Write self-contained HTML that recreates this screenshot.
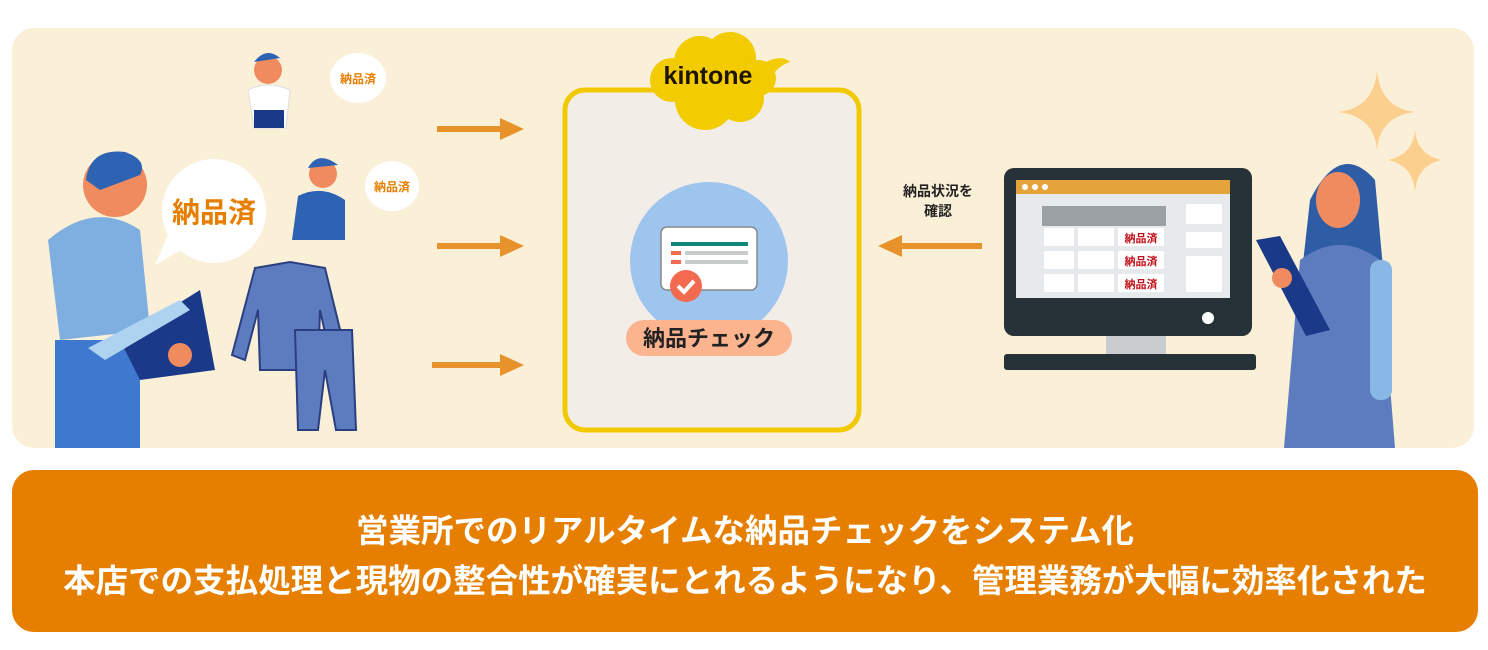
<!DOCTYPE html>
<html><head><meta charset="utf-8"><style>
html,body{margin:0;padding:0;background:#fff;width:1488px;height:650px;overflow:hidden}
svg{display:block}
text{font-family:"Liberation Sans","Noto Sans CJK JP",sans-serif;font-weight:bold}
</style></head><body>
<svg width="1488" height="650" viewBox="0 0 1488 650" xmlns="http://www.w3.org/2000/svg">
<rect x="12" y="28" width="1462" height="420" rx="22" fill="#faf0d7"/>
<rect x="12" y="470" width="1466" height="162" rx="22" fill="#e67f00"/>
<text x="745" y="542" font-size="32.5" fill="#fff" text-anchor="middle">営業所でのリアルタイムな納品チェックをシステム化</text>
<text x="745" y="592" font-size="32.5" fill="#fff" text-anchor="middle">本店での支払処理と現物の整合性が確実にとれるようになり、管理業務が大幅に効率化された</text>

<!-- kintone box -->
<rect x="565" y="90" width="294" height="340" rx="20" fill="#f3ede8" stroke="#f2c800" stroke-width="5"/>
<g fill="#f2cb00">
<circle cx="700" cy="62" r="26"/><circle cx="730" cy="58" r="26"/><circle cx="672" cy="80" r="22"/>
<circle cx="758" cy="78" r="18"/><circle cx="705" cy="100" r="30"/><circle cx="740" cy="98" r="24"/>
<path d="M755 68 Q780 52 790 62 Q775 66 768 85 Z"/>
</g>
<text x="708" y="84" font-size="25" fill="#1e1400" text-anchor="middle">kintone</text>
<circle cx="709" cy="261" r="79" fill="#9dc5ee"/>
<rect x="661" y="227" width="96" height="63" rx="6" fill="#fff" stroke="#888" stroke-width="1.5"/>
<rect x="671" y="242" width="77" height="4" fill="#11877c"/>
<rect x="671" y="251" width="10" height="4" fill="#f26b50"/><rect x="685" y="251" width="63" height="4" fill="#c9cccc"/>
<rect x="671" y="260" width="10" height="4" fill="#f26b50"/><rect x="685" y="260" width="63" height="4" fill="#c9cccc"/>
<circle cx="686" cy="286" r="16" fill="#f26b50"/>
<path d="M678 286 l6 6 l10 -11" stroke="#fff" stroke-width="4" fill="none"/>
<rect x="626" y="320" width="166" height="36" rx="18" fill="#fcb48e"/>
<text x="709" y="346" font-size="22" fill="#222" text-anchor="middle">納品チェック</text>

<!-- arrows -->
<g fill="#e8922c">
<rect x="437" y="126" width="65" height="6"/><path d="M500 118 L524 129 L500 140Z"/>
<rect x="437" y="243" width="65" height="6"/><path d="M500 235 L524 246 L500 257Z"/>
<rect x="432" y="362" width="70" height="6"/><path d="M500 354 L524 365 L500 376Z"/>
<rect x="900" y="243" width="82" height="6"/><path d="M902 235 L878 246 L902 257Z"/>
</g>
<text x="938" y="196" font-size="14" fill="#222" text-anchor="middle">納品状況を</text>
<text x="938" y="216" font-size="14" fill="#222" text-anchor="middle">確認</text>

<!-- monitor -->
<rect x="1004" y="168" width="248" height="168" rx="10" fill="#263238"/>
<rect x="1016" y="180" width="214" height="118" fill="#e7eaec"/>
<rect x="1016" y="180" width="214" height="14" fill="#e5a33b"/>
<circle cx="1025" cy="187" r="3" fill="#fff"/><circle cx="1035" cy="187" r="3" fill="#fff"/><circle cx="1045" cy="187" r="3" fill="#fff"/>
<rect x="1042" y="206" width="124" height="20" fill="#9aa0a3"/>
<g fill="#fff">
<rect x="1044" y="228" width="30" height="18"/><rect x="1078" y="228" width="36" height="18"/><rect x="1118" y="228" width="46" height="18"/>
<rect x="1044" y="251" width="30" height="18"/><rect x="1078" y="251" width="36" height="18"/><rect x="1118" y="251" width="46" height="18"/>
<rect x="1044" y="274" width="30" height="18"/><rect x="1078" y="274" width="36" height="18"/><rect x="1118" y="274" width="46" height="18"/>
<rect x="1186" y="204" width="36" height="20"/><rect x="1186" y="232" width="36" height="16"/><rect x="1186" y="256" width="36" height="36"/>
</g>
<text x="1141" y="242" font-size="11" fill="#c0121a" text-anchor="middle">納品済</text>
<text x="1141" y="265" font-size="11" fill="#c0121a" text-anchor="middle">納品済</text>
<text x="1141" y="288" font-size="11" fill="#c0121a" text-anchor="middle">納品済</text>
<circle cx="1208" cy="318" r="6" fill="#fff"/>
<rect x="1106" y="336" width="60" height="18" fill="#c9cdd0"/>
<rect x="1004" y="354" width="252" height="16" rx="3" fill="#263238"/>

<!-- sparkles -->
<g fill="#fbcf8d">
<path d="M1377 70 Q1380 108 1415 112 Q1380 116 1377 150 Q1374 116 1338 112 Q1374 108 1377 70Z"/>
<path d="M1415 130 Q1417 155 1442 160 Q1417 165 1415 192 Q1413 165 1388 160 Q1413 155 1415 130Z"/>
</g>

<!-- right woman -->
<path d="M1310 200 Q1340 140 1375 180 L1385 290 L1300 290Z" fill="#2f5da5"/>
<ellipse cx="1338" cy="200" rx="22" ry="28" fill="#f08b60"/>
<path d="M1300 260 Q1340 230 1380 260 L1395 448 L1284 448Z" fill="#5d7cc0"/>
<rect x="1370" y="260" width="22" height="140" rx="10" fill="#8ab8e6"/>
<path d="M1256 240 L1280 236 L1330 330 L1306 336Z" fill="#1a3989"/>
<circle cx="1282" cy="278" r="10" fill="#f08b60"/>

<!-- left man -->
<circle cx="115" cy="185" r="32" fill="#f08b60"/>
<path d="M86 180 Q90 148 125 152 Q148 160 140 175 L100 190Z" fill="#2e63b3"/>
<path d="M48 240 Q95 200 140 230 L150 330 L60 340Z" fill="#7faee0"/>
<rect x="55" y="340" width="85" height="108" fill="#3f78cf"/>
<path d="M120 340 L200 290 L215 370 L140 380Z" fill="#1a3989"/>
<path d="M88 348 L180 300 L190 310 L105 360Z" fill="#aed3f1"/>
<circle cx="180" cy="355" r="12" fill="#f08b60"/>
<ellipse cx="214" cy="211" rx="52" ry="52" fill="#fff"/>
<path d="M170 230 L155 265 L190 245Z" fill="#fff"/>
<text x="214" y="222" font-size="28" fill="#e67f00" text-anchor="middle">納品済</text>

<!-- clothes -->
<path d="M255 268 L290 262 L325 268 L345 350 L330 355 L320 310 L318 370 L260 370 L258 310 L245 360 L232 355Z" fill="#5d7cc0" stroke="#2a3f80" stroke-width="2"/>
<path d="M295 330 L352 330 L356 430 L336 430 L325 370 L318 430 L298 430Z" fill="#5d7cc0" stroke="#2a3f80" stroke-width="2"/>

<!-- top woman -->
<circle cx="268" cy="70" r="14" fill="#f08b60"/>
<path d="M254 62 Q268 44 284 62 L280 58Z" fill="#2e63b3"/>
<path d="M248 90 Q268 80 290 90 L286 128 L254 128Z" fill="#fff" stroke="#ddd"/>
<rect x="254" y="110" width="30" height="18" fill="#1a3989"/>
<ellipse cx="358" cy="78" rx="28" ry="25" fill="#fff"/>
<text x="358" y="83" font-size="12" fill="#e67f00" text-anchor="middle">納品済</text>

<!-- middle man -->
<circle cx="323" cy="174" r="14" fill="#f08b60"/>
<path d="M308 168 Q318 150 338 165 Z" fill="#2e63b3"/>
<path d="M298 196 Q322 184 345 200 L345 240 L292 240Z" fill="#2e63b3"/>
<ellipse cx="392" cy="186" rx="27" ry="25" fill="#fff"/>
<text x="392" y="191" font-size="12" fill="#e67f00" text-anchor="middle">納品済</text>
</svg>
</body></html>
